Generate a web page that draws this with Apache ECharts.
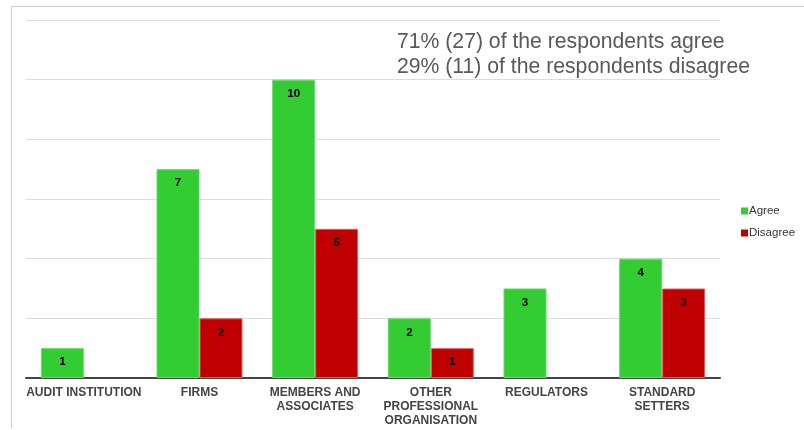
<!DOCTYPE html>
<html>
<head>
<meta charset="utf-8">
<script src="https://cdn.jsdelivr.net/npm/echarts@6/dist/echarts.min.js"></script>
<style>html,body{margin:0;padding:0;background:#fff;}#c{width:804px;height:430px;}</style>
</head>
<body>
<div id="c"></div>
<script>
const categories = ['AUDIT INSTITUTION', 'FIRMS', 'MEMBERS AND\nASSOCIATES', 'OTHER\nPROFESSIONAL\nORGANISATION', 'REGULATORS', 'STANDARD\nSETTERS'];
const agree = [1, 7, 10, 2, 3, 4];
const disagree = [null, 2, 5, 1, null, 3];
const seriesNames = ['Agree', 'Disagree'];
const noteLines = ['71% (27) of the respondents agree', '29% (11) of the respondents disagree'];

const chart = echarts.init(document.getElementById('c'), null, {renderer: 'canvas'});
const labelCfg = {show: true, position: 'insideTop', distance: 8, color: '#000', fontWeight: 'bold', fontSize: 11.5, fontFamily: 'Liberation Sans, Arial, sans-serif'};
chart.setOption({
  animation: false,
  backgroundColor: '#fff',
  textStyle: {fontFamily: 'Liberation Sans, Arial, sans-serif'},
  grid: {left: 26, right: 84, top: 20, bottom: 52, containLabel: false},
  legend: {
    orient: 'vertical', left: 736, top: 200,
    itemWidth: 7, itemHeight: 7, itemGap: 10,
    icon: 'rect',
    itemStyle: {borderWidth: 0},
    textStyle: {fontSize: 11.5, color: '#333', padding: [0, 0, 0, -4]},
    data: seriesNames
  },
  xAxis: {
    type: 'category', data: categories,
    axisLine: {lineStyle: {color: '#444', width: 2}},
    axisTick: {show: false},
    axisLabel: {interval: 0, fontWeight: 'bold', fontSize: 12, color: '#444', lineHeight: 14, margin: 8}
  },
  yAxis: {
    type: 'value', min: 0, max: 12, interval: 2,
    axisLabel: {show: false}, axisLine: {show: false}, axisTick: {show: false},
    splitLine: {lineStyle: {color: '#dcdcdc', width: 1}}
  },
  series: [
    {name: seriesNames[0], type: 'bar', data: agree, barGap: '0%', barCategoryGap: '25.7%',
     itemStyle: {color: '#33cc33', borderColor: '#66d966', borderWidth: 1}, label: labelCfg},
    {name: seriesNames[1], type: 'bar', data: disagree,
     itemStyle: {color: '#c00000', borderColor: '#d86060', borderWidth: 1}, label: labelCfg}
  ],
  graphic: [
    {type: 'line', shape: {x1: 11, y1: 6.5, x2: 804, y2: 6.5}, style: {stroke: '#cfcfcf', lineWidth: 1}, silent: true},
    {type: 'line', shape: {x1: 11.5, y1: 6, x2: 11.5, y2: 428}, style: {stroke: '#cfcfcf', lineWidth: 1}, silent: true},
    {type: 'text', left: 397, top: 30, style: {text: noteLines.join('\n'), fontSize: 21.2, lineHeight: 25, fill: '#595959', fontFamily: 'Liberation Sans, Arial, sans-serif'}}
  ]
});
</script>
</body>
</html>
